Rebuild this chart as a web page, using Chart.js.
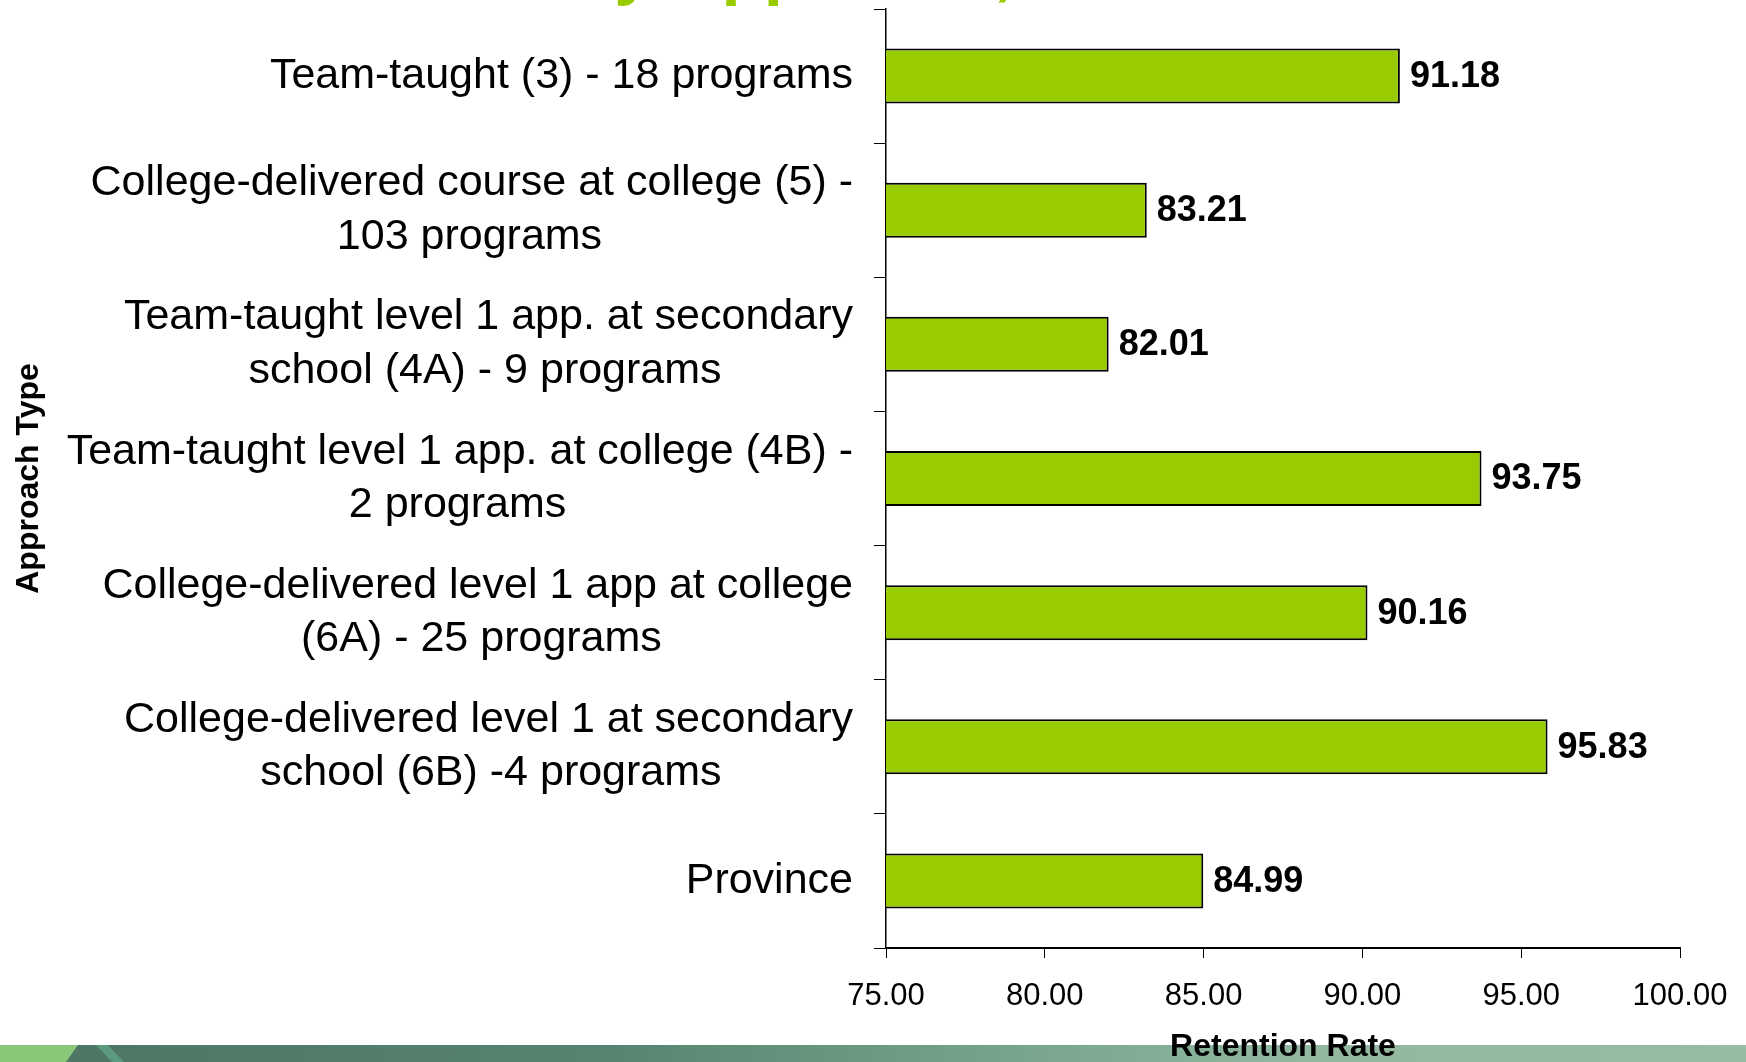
<!DOCTYPE html>
<html lang="en">
<head>
<meta charset="UTF-8" />
<title>Retention Rate by Approach Type</title>
<script src="https://cdn.jsdelivr.net/npm/chart.js"></script>
<style>
  html, body { margin:0; padding:0; background:#fff; overflow:hidden; }
  .wrap { width:1746px; height:1062px; }
</style>
</head>
<body>
<div class="wrap"><canvas id="chart" width="1746" height="1062"></canvas></div>
<script>
// data
const categories = [
  ['Team-taught (3) - 18 programs'],
  ['College-delivered course at college (5) -', '103 programs'],
  ['Team-taught level 1 app. at secondary', 'school (4A) - 9 programs'],
  ['Team-taught level 1 app. at college (4B) -', '2 programs'],
  ['College-delivered level 1 app at college', '(6A) - 25 programs'],
  ['College-delivered level 1 at secondary', 'school (6B) -4 programs'],
  ['Province']
];
const retentionRates = [91.18, 83.21, 82.01, 93.75, 90.16, 95.83, 84.99];
const xTicks = [75, 80, 85, 90, 95, 100];

const FONT = "'Liberation Sans', Arial, sans-serif";
const LABEL_SIZE = 43;

// labels are right aligned as a block, but the lines inside a block are centred:
// pad the shorter line with trailing spaces so that it lands in the middle
const mctx = document.createElement('canvas').getContext('2d');
mctx.font = LABEL_SIZE + 'px ' + FONT;
function balanceLines(lines){
  if(lines.length < 2) return lines;
  const widths = lines.map(l => mctx.measureText(l).width);
  const widest = Math.max(...widths);
  const sp = mctx.measureText(' ').width;
  return lines.map((l, i) => l + ' '.repeat(Math.round((widest - widths[i]) / 2 / sp)));
}

// bottom decoration band of the slide
const bandPlugin = {
  id:'band',
  beforeDraw(chart){
    const c = chart.ctx, W = chart.width, top = 1045, H = chart.height;
    c.save();
    const g = c.createLinearGradient(0,0,W,0);
    g.addColorStop(0,'#4d7462');
    g.addColorStop(0.35,'#568470');
    g.addColorStop(0.6,'#7aa78e');
    g.addColorStop(0.75,'#92b8a0');
    g.addColorStop(1,'#98bca4');
    c.fillStyle = g;
    c.fillRect(0, top, W, H - top);
    c.fillStyle = '#88c878';
    c.beginPath(); c.moveTo(0,top); c.lineTo(78,top); c.lineTo(66,H); c.lineTo(0,H); c.fill();
    c.fillStyle = '#5c9a80';
    c.beginPath(); c.moveTo(96,top); c.lineTo(108,top); c.lineTo(124,H); c.lineTo(112,H); c.fill();
    c.restore();
  }
};

// the slide title, cut off at the top edge (only descenders show)
const titlePlugin = {
  id:'slideTitle',
  afterDraw(chart){
    const c = chart.ctx;
    c.save();
    c.font = 'bold 69px ' + FONT;
    c.fillStyle = '#99cc00';
    c.textBaseline = 'alphabetic';
    c.fillText('by Approach,', 572, -8);
    c.restore();
  }
};

// value labels to the right of each bar
const valuePlugin = {
  id:'values',
  afterDatasetsDraw(chart){
    const c = chart.ctx, meta = chart.getDatasetMeta(0);
    c.save();
    c.font = 'bold 36px ' + FONT;
    c.fillStyle = '#000';
    c.textBaseline = 'middle';
    meta.data.forEach((bar, i) => {
      c.fillText(retentionRates[i].toFixed(2), bar.x + 10, bar.y + 1);
    });
    c.restore();
  }
};

new Chart(document.getElementById('chart'), {
  type:'bar',
  data:{
    labels: categories.map(balanceLines),
    datasets:[{
      data: retentionRates,
      backgroundColor:'#99cc00',
      borderColor:'#000',
      borderWidth:2,
      borderSkipped:false,
      categoryPercentage:1,
      barPercentage:0.41
    }]
  },
  options:{
    indexAxis:'y',
    responsive:false,
    animation:false,
    devicePixelRatio:1,
    layout:{ padding:{ top:9, right:66, left:0, bottom:0 } },
    plugins:{ legend:{display:false}, tooltip:{enabled:false} },
    scales:{
      x:{
        min: xTicks[0], max: xTicks[xTicks.length-1],
        afterFit(s){ s.height = 114; s.paddingLeft = 0; s.paddingRight = 0; },
        grid:{ drawOnChartArea:false, tickLength:10, color:'#000', lineWidth:1 },
        border:{ color:'#000', width:2 },
        ticks:{
          stepSize: xTicks[1]-xTicks[0],
          callback: v => Number(v).toFixed(2),
          color:'#000', padding:20, maxRotation:0,
          font:{ family:FONT, size:31 }
        },
        title:{ display:true, text:'Retention Rate', color:'#000',
          font:{ family:FONT, size:32, weight:'bold', lineHeight:0.92 }, padding:{top:0,bottom:0} }
      },
      y:{
        afterFit(s){ s.width = 886; s.paddingTop = 0; s.paddingBottom = 0; },
        grid:{ drawOnChartArea:false, tickLength:12, color:'#000', lineWidth:1, offset:true },
        border:{ color:'#000', width:1.5 },
        ticks:{ color:'#000', padding:21, autoSkip:false,
          font:{ family:FONT, size:LABEL_SIZE, lineHeight:1.245 } },
        title:{ display:true, text:'Approach Type', color:'#000',
          font:{ family:FONT, size:32, weight:'bold' }, padding:{top:10,bottom:0} }
      }
    }
  },
  plugins:[bandPlugin, valuePlugin, titlePlugin]
});
</script>
</body>
</html>
